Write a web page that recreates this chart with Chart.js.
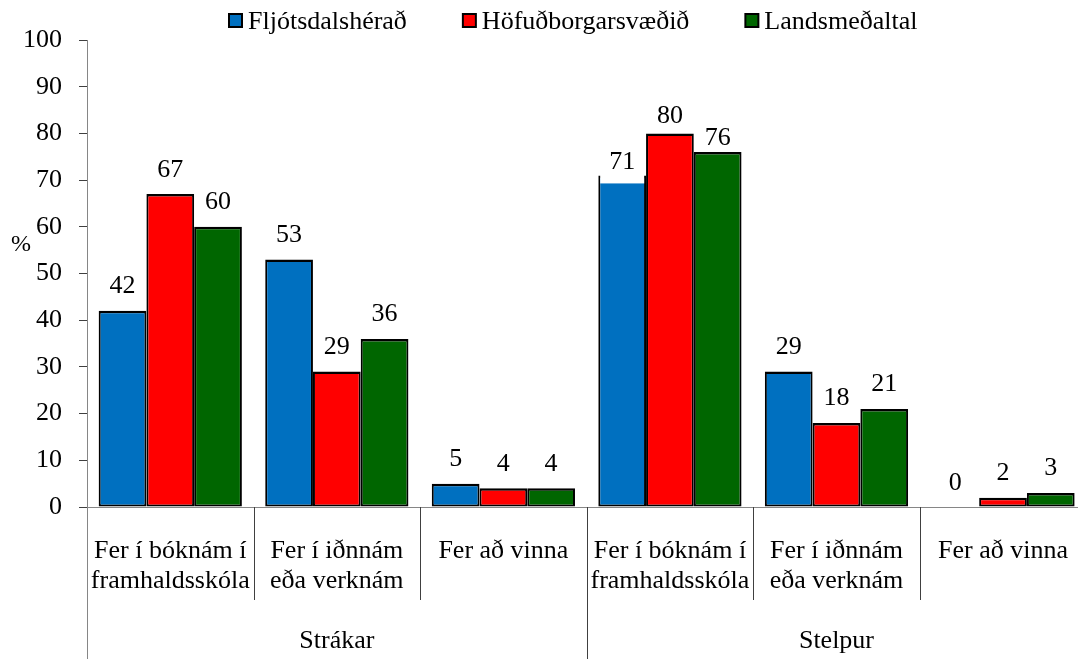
<!DOCTYPE html>
<html lang="is">
<head>
<meta charset="utf-8">
<title>Framtíðaráform eftir kyni og landsvæði</title>
<script src="https://cdn.jsdelivr.net/npm/chart.js@4.4.1/dist/chart.umd.min.js"></script>
<style>
  html, body { margin: 0; padding: 0; background: #fff; overflow: hidden; }
  #wrap { position: relative; width: 1090px; height: 659px; }
  canvas { display: block; }
</style>
</head>
<body>
<div id="wrap"><canvas id="chart" width="1090" height="659"></canvas></div>
<script>
// ---- gögn ----
const categories = [
  ['Fer í bóknám í', 'framhaldsskóla'], ['Fer í iðnnám', 'eða verknám'], ['Fer að vinna'],
  ['Fer í bóknám í', 'framhaldsskóla'], ['Fer í iðnnám', 'eða verknám'], ['Fer að vinna']
];
const groups = ['Strákar', 'Stelpur'];
const seriesNames = ['Fljótsdalshérað', 'Höfuðborgarsvæðið', 'Landsmeðaltal'];
const fljotsdalsherad   = [42, 53, 5, 71, 29, 0];
const hofudborgarsvaedid = [67, 29, 4, 80, 18, 2];
const landsmedaltal     = [60, 36, 4, 76, 21, 3];
const yMin = 0, yMax = 100, yStep = 10;

// ---- útlit ----
const seriesColors = ['#0070C0', '#FF0000', '#006600'];
const FONT = '"Liberation Serif", "Times New Roman", serif';
const FS = 26;
const groupSize = 3;
// sum gildismerki eru færð neðar (px) og eitt fær hvítan bakgrunn
const labelNudge = { '0:3': { dy: 11.5, fill: true }, '1:3': { dy: 7.5 }, '2:3': { dy: 10 } };

const valueLabels = {
  id: 'valueLabels',
  afterDatasetsDraw(chart) {
    const ctx = chart.ctx;
    ctx.save();
    ctx.font = FS + 'px ' + FONT;
    ctx.textAlign = 'center';
    ctx.textBaseline = 'alphabetic';
    chart.data.datasets.forEach((ds, di) => {
      chart.getDatasetMeta(di).data.forEach((bar, i) => {
        const txt = String(Math.round(ds.data[i]));
        const n = labelNudge[di + ':' + i] || {};
        const y = bar.y - 17.5 + (n.dy || 0);
        if (n.fill) {
          const w = ctx.measureText(txt).width + 18;
          ctx.fillStyle = '#fff';
          ctx.fillRect(bar.x - w / 2, y - 26, w, 40);
        }
        ctx.fillStyle = '#000';
        ctx.fillText(txt, bar.x, y);
      });
    });
    ctx.restore();
  }
};

// skilalínur undir x-ás, yfirflokkar, % og skýringar
const axisExtras = {
  id: 'axisExtras',
  afterDraw(chart) {
    const ctx = chart.ctx;
    const xs = chart.scales.x;
    const n = categories.length;
    const cw = (xs.right - xs.left) / n;
    const base = chart.chartArea.bottom;
    ctx.save();
    ctx.lineWidth = 1;
    for (let k = 0; k <= n; k++) {
      const x = Math.round(xs.left + k * cw) + 0.5;
      const isGroup = k % groupSize === 0;
      ctx.strokeStyle = k === 0 ? '#868686' : '#404040';
      ctx.beginPath();
      ctx.moveTo(x, base);
      ctx.lineTo(x, isGroup ? chart.height : base + 93);
      ctx.stroke();
    }

    ctx.fillStyle = '#000';
    ctx.font = FS + 'px ' + FONT;
    ctx.textAlign = 'center';
    ctx.textBaseline = 'alphabetic';
    groups.forEach((g, gi) => {
      const x0 = xs.left + gi * groupSize * cw;
      ctx.fillText(g, x0 + groupSize * cw / 2, 648);
    });

    ctx.textAlign = 'left';
    ctx.font = '24px ' + FONT;
    ctx.fillText('%', 11, 251);

    // skýringar efst
    ctx.font = FS + 'px ' + FONT;
    let x = 228;
    chart.data.datasets.forEach(ds => {
      ctx.fillStyle = '#000';
      ctx.fillRect(x, 13, 15, 15);
      ctx.fillStyle = ds.backgroundColor;
      ctx.fillRect(x + 2, 15, 11, 11);
      ctx.fillStyle = '#000';
      ctx.fillText(ds.label, x + 20, 29);
      x += 20 + ctx.measureText(ds.label).width + 55;
    });
    ctx.restore();
  }
};

const seriesData = [fljotsdalsherad, hofudborgarsvaedid, landsmedaltal];

new Chart(document.getElementById('chart'), {
  type: 'bar',
  data: {
    labels: categories,
    datasets: seriesNames.map((name, i) => ({
      label: name,
      data: seriesData[i],
      backgroundColor: seriesColors[i],
      borderColor: '#000',
      borderWidth: { top: 2.5, left: 2, right: 2, bottom: 2 },
      borderSkipped: false,
      categoryPercentage: 0.86,
      barPercentage: 1.0
    }))
  },
  options: {
    responsive: false,
    animation: false,
    events: [],
    layout: { padding: { top: 40, left: 0, right: 0, bottom: 0 } },
    plugins: {
      legend: { display: false },
      tooltip: { enabled: false }
    },
    scales: {
      x: {
        offset: true,
        grid: { display: false },
        border: { color: '#868686', width: 1 },
        ticks: {
          color: '#000',
          font: { family: FONT, size: FS, lineHeight: 1.127 },
          padding: 22,
          maxRotation: 0,
          autoSkip: false
        },
        afterFit(scale) { scale.height = 152; }
      },
      y: {
        min: yMin,
        max: yMax,
        grid: { drawOnChartArea: false, drawTicks: true, tickLength: 8, color: '#404040' },
        border: { color: '#868686', width: 1 },
        ticks: {
          stepSize: yStep,
          color: '#000',
          padding: 17,
          font: { family: FONT, size: FS }
        },
        afterFit(scale) { scale.width = 87; }
      }
    }
  },
  plugins: [valueLabels, axisExtras]
});
</script>
</body>
</html>
